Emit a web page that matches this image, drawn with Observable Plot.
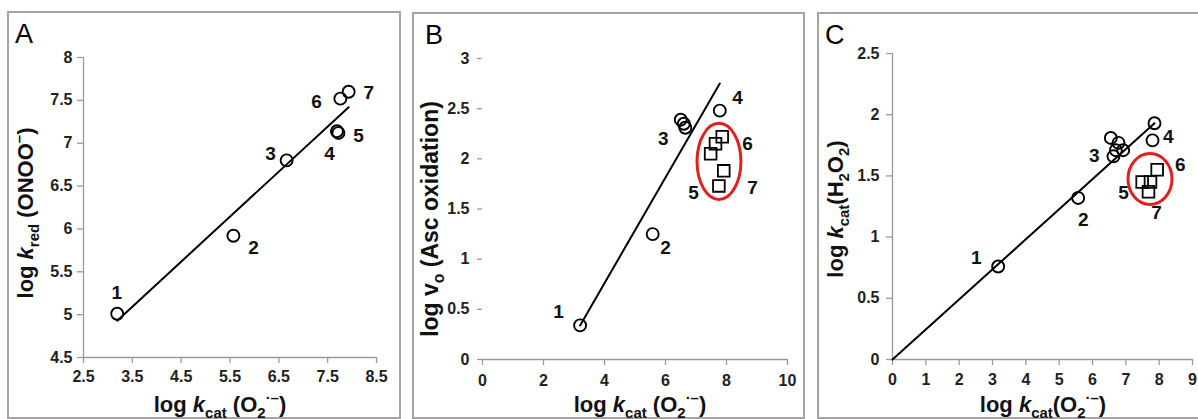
<!DOCTYPE html>
<html><head><meta charset="utf-8">
<script src="https://cdn.jsdelivr.net/npm/d3@7"></script>
<script src="https://cdn.jsdelivr.net/npm/@observablehq/plot@0.6"></script>
<style>
body{margin:0;background:#fff;width:1198px;height:419px;overflow:hidden;position:relative;font-family:"Liberation Sans",Arial,sans-serif;}
.frame{position:absolute;border:2px solid #a9a2a2;box-sizing:border-box;}
.panel{position:absolute;}
.panel svg{overflow:visible;}
</style></head><body>
<script>
// ---------- Panel A data ----------
const aCircleX = [3.19, 5.57, 6.66, 7.69, 7.72, 7.76, 7.93];
const aCircleY = [5.01, 5.92, 6.80, 7.14, 7.12, 7.52, 7.60];
const aFitX = [3.19, 7.93];
const aFitY = [4.93, 7.42];
const aLabelText = ["1", "2", "3", "4", "5", "6", "7"];
const aLabelX = [3.18, 5.98, 6.33, 7.54, 8.13, 7.27, 8.34];
const aLabelY = [5.25, 5.78, 6.88, 6.88, 7.09, 7.48, 7.59];
const aXTicks = [2.5, 3.5, 4.5, 5.5, 6.5, 7.5, 8.5];
const aYTicks = [4.5, 5, 5.5, 6, 6.5, 7, 7.5, 8];

// ---------- Panel B data ----------
const bCircleX = [3.2, 5.58, 6.5, 6.6, 6.65, 7.78];
const bCircleY = [0.34, 1.25, 2.39, 2.35, 2.31, 2.48];
const bSquareX = [7.86, 7.64, 7.48, 7.91, 7.75];
const bSquareY = [2.22, 2.15, 2.05, 1.88, 1.73];
const bFitX = [3.2, 7.78];
const bFitY = [0.34, 2.75];
const bLabelText = ["1", "2", "3", "4", "5", "6", "7"];
const bLabelX = [2.49, 6.0, 5.93, 8.36, 6.92, 8.69, 8.85];
const bLabelY = [0.47, 1.11, 2.20, 2.61, 1.66, 2.15, 1.71];
const bEllipse = [7.77, 1.97, 0.72, 0.38]; // cx, cy, rx, ry (data units)
const bXTicks = [0, 2, 4, 6, 8, 10];
const bYTicks = [0, 0.5, 1, 1.5, 2, 2.5, 3];

// ---------- Panel C data ----------
const cCircleX = [3.17, 5.57, 6.55, 6.78, 6.70, 6.92, 6.63, 7.86, 7.80];
const cCircleY = [0.76, 1.32, 1.81, 1.77, 1.71, 1.71, 1.66, 1.93, 1.79];
const cSquareX = [7.94, 7.49, 7.74, 7.68];
const cSquareY = [1.55, 1.45, 1.45, 1.37];
const cFitX = [0, 7.86];
const cFitY = [0, 1.93];
const cLabelText = ["1", "2", "3", "4", "5", "6", "7"];
const cLabelX = [2.51, 5.72, 6.05, 8.27, 6.93, 8.63, 7.92];
const cLabelY = [0.83, 1.14, 1.66, 1.82, 1.36, 1.59, 1.20];
const cEllipse = [7.74, 1.47, 0.66, 0.208];
const cXTicks = [0, 1, 2, 3, 4, 5, 6, 7, 8, 9];
const cYTicks = [0, 0.5, 1, 1.5, 2, 2.5];

const zip = (xs, ys) => xs.map((x, i) => ({x, y: ys[i]}));
const labs = (t, xs, ys) => t.map((s, i) => ({t: s, x: xs[i], y: ys[i]}));

function addFrame(l, t, w, h) {
  const d = document.createElement("div");
  d.className = "frame";
  Object.assign(d.style, {left: l + "px", top: t + "px", width: w + "px", height: h + "px"});
  document.body.appendChild(d);
}

function richText(sel, parts, size) {
  let shift = 0;
  for (const p of parts) {
    const target = p.sub ? size * 0.28 : p.sup ? -size * 0.42 : 0;
    const ts = sel.append("tspan").text(p.t);
    if (target - shift !== 0) ts.attr("dy", target - shift);
    shift = target;
    if (p.sub || p.sup) ts.attr("font-size", size * 0.68);
    if (p.i) ts.attr("font-style", "italic");
  }
}

function panel(o) {
  const marks = [];
  if (o.yLine) marks.push(Plot.ruleX([o.xDomain[0]], {stroke: "#9a9a9a", strokeWidth: 1.3}));
  marks.push(Plot.ruleY([o.yDomain[0]], {stroke: "#9a9a9a", strokeWidth: 1.3}));
  marks.push(Plot.line(zip(o.fitX, o.fitY), {x: "x", y: "y", stroke: "#000", strokeWidth: 2}));
  marks.push(Plot.dot(zip(o.cx, o.cy), {x: "x", y: "y", r: 6, stroke: "#000", strokeWidth: 1.9, fill: "none"}));
  if (o.sx) marks.push(Plot.dot(zip(o.sx, o.sy), {x: "x", y: "y", r: 6.6, symbol: "square", stroke: "#000", strokeWidth: 1.8, fill: "none"}));
  marks.push(Plot.text(o.labels, {x: "x", y: "y", text: "t", fontSize: 19, fontWeight: "bold", fill: "#111"}));
  const plot = Plot.plot({
    width: o.w, height: o.h,
    marginLeft: o.ml, marginRight: o.mr, marginTop: o.mt, marginBottom: o.mb,
    style: {fontFamily: "'Liberation Sans', Arial, sans-serif", fontSize: "16px", fontWeight: "bold", color: "#222", background: "transparent", overflow: "visible"},
    x: {domain: o.xDomain, ticks: o.xTicks, tickFormat: d => String(d), tickSize: 6, tickPadding: o.xPad, label: null},
    y: {domain: o.yDomain, ticks: o.yTicks, tickFormat: d => String(d), tickSize: o.yTickSize, tickPadding: o.yPad, label: null},
    marks
  });
  const svg = d3.select(plot);
  svg.selectAll('g[aria-label$="tick label"]').attr("font-size", 16).attr("font-weight", "bold").attr("fill", "#222");
  svg.selectAll('g[aria-label="x-axis tick"], g[aria-label="y-axis tick"]').attr("stroke", "#9a9a9a").attr("stroke-width", 1.3);
  // ellipse
  if (o.ellipse) {
    const xs = plot.scale("x"), ys = plot.scale("y");
    const [cx, cy, rx, ry] = o.ellipse;
    svg.append("ellipse")
      .attr("cx", xs.apply(cx)).attr("cy", ys.apply(cy))
      .attr("rx", Math.abs(xs.apply(cx + rx) - xs.apply(cx)))
      .attr("ry", Math.abs(ys.apply(cy + ry) - ys.apply(cy)))
      .attr("fill", "none").attr("stroke", "#e0201c").attr("stroke-width", 3);
  }
  // panel letter
  svg.append("text").attr("x", o.letterX).attr("y", 31).attr("text-anchor", "start").attr("font-size", 27).attr("font-weight", "normal").attr("fill", "#000").text(o.letter);
  // x title
  const xt = svg.append("text").attr("x", o.xTitleX).attr("y", o.h - 6).attr("text-anchor", "middle").attr("font-size", 22).attr("font-weight", "bold").attr("fill", "#111");
  richText(xt, o.xTitle, 22);
  const yt = svg.append("text").attr("transform", `translate(${o.yTitleX},${o.yTitleY}) rotate(-90)`).attr("text-anchor", "middle").attr("font-size", o.yTitleSize).attr("font-weight", "bold").attr("fill", "#111");
  richText(yt, o.yTitle, o.yTitleSize);
  const div = document.createElement("div");
  div.className = "panel";
  Object.assign(div.style, {left: o.left + "px", top: o.top + "px"});
  div.appendChild(plot);
  document.body.appendChild(div);
}

const kcatO2 = [{t: "log "}, {t: "k", i: true}, {t: "cat", sub: true}, {t: " (O"}, {t: "2", sub: true}, {t: "·–", sup: true}, {t: ")"}];
const kcatO2c = [{t: "log "}, {t: "k", i: true}, {t: "cat", sub: true}, {t: "(O"}, {t: "2", sub: true}, {t: "·–", sup: true}, {t: ")"}];

addFrame(7, 11, 394, 408);
addFrame(412, 12, 393, 407);
addFrame(817, 12, 400, 407);

panel({
  left: 8, top: 12, w: 392, h: 406, ml: 75, mr: 24, mt: 45, mb: 61,
  xDomain: [2.5, 8.5], yDomain: [4.5, 8], xTicks: aXTicks, yTicks: aYTicks,
  xPad: 7, yPad: 5, yTickSize: 6, yLine: true,
  fitX: aFitX, fitY: aFitY, cx: aCircleX, cy: aCircleY,
  labels: labs(aLabelText, aLabelX, aLabelY),
  letter: "A", letterX: 7,
  xTitle: kcatO2, xTitleX: 212,
  yTitle: [{t: "log "}, {t: "k", i: true}, {t: "red", sub: true}, {t: " (ONOO"}, {t: "–", sup: true}, {t: ")"}],
  yTitleX: 25, yTitleY: 201, yTitleSize: 22
});

panel({
  left: 413, top: 13, w: 391, h: 405, ml: 69, mr: 17, mt: 45, mb: 59,
  xDomain: [0, 10], yDomain: [0, 3], xTicks: bXTicks, yTicks: bYTicks,
  xPad: 9, yPad: 8, yTickSize: 5, yLine: false,
  fitX: bFitX, fitY: bFitY, cx: bCircleX, cy: bCircleY, sx: bSquareX, sy: bSquareY,
  labels: labs(bLabelText, bLabelX, bLabelY), ellipse: bEllipse,
  letter: "B", letterX: 12,
  xTitle: kcatO2, xTitleX: 227,
  yTitle: [{t: "log v"}, {t: "o", sub: true}, {t: " (Asc oxidation)"}],
  yTitleX: 25, yTitleY: 206, yTitleSize: 23
});

panel({
  left: 818, top: 13, w: 380, h: 405, ml: 74, mr: 6, mt: 40, mb: 59,
  xDomain: [0, 9], yDomain: [0, 2.5], xTicks: cXTicks, yTicks: cYTicks,
  xPad: 8, yPad: 7, yTickSize: 6, yLine: true,
  fitX: cFitX, fitY: cFitY, cx: cCircleX, cy: cCircleY, sx: cSquareX, sy: cSquareY,
  labels: labs(cLabelText, cLabelX, cLabelY), ellipse: cEllipse,
  letter: "C", letterX: 7,
  xTitle: kcatO2c, xTitleX: 225,
  yTitle: [{t: "log "}, {t: "k", i: true}, {t: "cat", sub: true}, {t: "(H"}, {t: "2", sub: true}, {t: "O"}, {t: "2", sub: true}, {t: ")"}],
  yTitleX: 25, yTitleY: 196, yTitleSize: 22
});
</script>
</body></html>
